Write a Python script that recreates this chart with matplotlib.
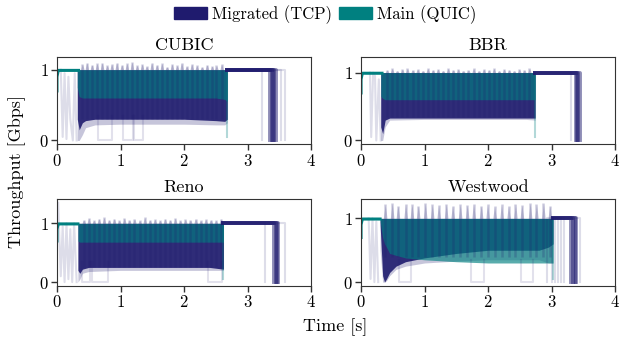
import matplotlib
matplotlib.use("Agg")
import matplotlib.pyplot as plt
from matplotlib.patches import Patch

plt.rcParams["font.family"] = "serif"
plt.rcParams["font.serif"] = ["cmr10", "DejaVu Serif"]
plt.rcParams["mathtext.fontset"] = "cm"
plt.rcParams["axes.formatter.use_mathtext"] = True

TCP = "#1f1b6e"
QUIC = "#008080"

titles = ["CUBIC", "BBR", "Reno", "Westwood"]
y_limits = [(-0.056, 1.18), (-0.058, 1.23), (-0.068, 1.42), (-0.063, 1.31)]
stripe_base = [0.3, 0.35, 0.25, 0.4]

# --- CUBIC ---
cubic_quic_t = [0.0, 0.0, 0.02, 0.34]
cubic_quic_y = [0.7, 0.9, 0.99, 0.99]
cubic_band_t = [0.32, 0.35, 0.40, 0.45, 0.6, 1.0, 1.5, 2.0, 2.5, 2.64, 2.68]
cubic_tcp_min = [0.0, 0.0, 0.08, 0.18, 0.22, 0.23, 0.23, 0.23, 0.22, 0.22, 0.25]
cubic_tcp_lo = [0.3, 0.15, 0.25, 0.28, 0.3, 0.3, 0.3, 0.3, 0.28, 0.27, 0.3]
cubic_quic_lo = [0.75, 0.62, 0.6, 0.6, 0.6, 0.6, 0.6, 0.6, 0.6, 0.58, 0.55]
cubic_peak_t = [0.40, 0.47, 0.55, 0.63, 0.71, 0.79, 0.86, 0.94, 1.02, 1.10,
                1.18, 1.26, 1.34, 1.41, 1.49, 1.57, 1.65, 1.73, 1.81, 1.89,
                1.96, 2.04, 2.12, 2.20, 2.28, 2.36, 2.44, 2.51, 2.59]
cubic_peak_y = [1.08, 1.10, 1.07, 1.09, 1.10, 1.06, 1.08, 1.10, 1.07, 1.09,
                1.11, 1.06, 1.08, 1.05, 1.10, 1.07, 1.09, 1.04, 1.08, 1.06,
                1.10, 1.05, 1.08, 1.06, 1.04, 1.07, 1.05, 1.06, 1.08]
cubic_drops = [3.35, 3.38, 3.40, 3.42, 3.44]
cubic_faint_drops = [3.23, 3.52, 3.58]
cubic_gap_start = [0.65, 1.04, 1.22]
cubic_gap_end = [0.86, 1.20, 1.36]
cubic_ghost_t = [0.06, 0.09, 0.12, 0.15, 0.18, 0.21, 0.25, 0.28, 0.31]
cubic_ghost_y = [1.0, 0.05, 0.95, 0.02, 0.9, 0.3, 0.0, 0.95, 0.0]

# --- BBR ---
bbr_quic_t = [0.0, 0.0, 0.02, 0.33]
bbr_quic_y = [0.7, 0.9, 0.99, 0.99]
bbr_band_t = [0.31, 0.34, 0.38, 0.45, 1.0, 2.0, 2.6, 2.74]
bbr_tcp_min = [0.0, 0.0, 0.2, 0.3, 0.31, 0.31, 0.31, 0.3]
bbr_tcp_lo = [0.2, 0.1, 0.3, 0.33, 0.33, 0.33, 0.33, 0.33]
bbr_quic_lo = [0.65, 0.62, 0.6, 0.6, 0.6, 0.6, 0.6, 0.6]
bbr_peak_t = [0.41, 0.49, 0.57, 0.65, 0.73, 0.81, 0.89, 0.97, 1.05, 1.13,
              1.21, 1.29, 1.37, 1.45, 1.53, 1.61, 1.69, 1.77, 1.85, 1.93,
              2.01, 2.09, 2.17, 2.25, 2.33, 2.41, 2.49, 2.57, 2.65]
bbr_peak_y = [1.04, 1.06, 1.03, 1.05, 1.06, 1.04, 1.05, 1.03, 1.06, 1.04,
              1.05, 1.03, 1.06, 1.04, 1.05, 1.03, 1.04, 1.06, 1.03, 1.05,
              1.04, 1.06, 1.03, 1.05, 1.04, 1.03, 1.05, 1.04, 1.06]
bbr_drops = [3.38, 3.40, 3.42, 3.44]
bbr_faint_drops = [3.31]
bbr_gap_start = []
bbr_gap_end = []
bbr_ghost_t = [0.14, 0.16, 0.19, 0.22, 0.24, 0.28, 0.31]
bbr_ghost_y = [1.0, 0.05, 1.0, 0.95, 0.0, 0.9, 0.0]

# --- Reno ---
reno_quic_t = [0.0, 0.0, 0.02, 0.33]
reno_quic_y = [0.7, 0.9, 0.99, 0.99]
reno_band_t = [0.33, 0.36, 0.40, 0.5, 1.0, 1.5, 2.0, 2.4, 2.62]
reno_tcp_min = [0.0, 0.05, 0.15, 0.18, 0.2, 0.2, 0.2, 0.2, 0.2]
reno_tcp_lo = [0.2, 0.15, 0.22, 0.25, 0.25, 0.25, 0.25, 0.25, 0.22]
reno_quic_lo = [0.7, 0.68, 0.68, 0.68, 0.68, 0.68, 0.68, 0.68, 0.68]
reno_peak_t = [0.42, 0.50, 0.58, 0.66, 0.74, 0.82, 0.90, 0.98, 1.06, 1.14,
               1.22, 1.30, 1.38, 1.46, 1.54, 1.62, 1.70, 1.78, 1.86, 1.94,
               2.02, 2.10, 2.18, 2.26, 2.34, 2.42, 2.50, 2.58]
reno_peak_y = [1.06, 1.09, 1.05, 1.08, 1.1, 1.06, 1.08, 1.05, 1.09, 1.06,
               1.08, 1.05, 1.1, 1.06, 1.07, 1.05, 1.08, 1.06, 1.09, 1.05,
               1.07, 1.06, 1.08, 1.05, 1.07, 1.06, 1.05, 1.08]
reno_drops = [3.42, 3.44, 3.46, 3.48]
reno_faint_drops = [3.27, 3.58]
reno_gap_start = [0.39, 0.55, 2.37]
reno_gap_end = [0.52, 0.80, 2.60]
reno_ghost_t = [0.02, 0.03, 0.06, 0.09, 0.12, 0.15, 0.18, 0.21, 0.24, 0.27, 0.31]
reno_ghost_y = [1.35, 1.0, 0.1, 0.95, 0.0, 1.0, 0.05, 0.9, 0.0, 1.0, 0.0]

# --- Westwood ---
westwood_quic_t = [0.0, 0.0, 0.02, 0.30]
westwood_quic_y = [0.7, 0.9, 0.99, 0.99]
westwood_band_t = [0.30, 0.34, 0.37, 0.40, 0.45, 0.55, 0.7, 1.0, 1.5, 2.0, 2.5, 2.8, 2.95, 3.02]
westwood_tcp_min = [0.5, 0.0, 0.0, 0.02, 0.1, 0.2, 0.25, 0.3, 0.33, 0.35, 0.35, 0.35, 0.3, 0.3]
westwood_tcp_lo = [0.9, 0.1, 0.0, 0.05, 0.15, 0.25, 0.32, 0.38, 0.45, 0.5, 0.5, 0.5, 0.55, 0.6]
westwood_quic_lo = [0.95, 0.7, 0.6, 0.55, 0.45, 0.42, 0.38, 0.35, 0.32, 0.3, 0.3, 0.3, 0.3, 0.3]
westwood_peak_t = [0.38, 0.49, 0.58, 0.70, 0.80, 0.90, 1.01, 1.12, 1.22, 1.34,
                   1.44, 1.56, 1.67, 1.77, 1.89, 1.99, 2.10, 2.21, 2.32, 2.43,
                   2.53, 2.66, 2.76, 2.87, 2.97]
westwood_peak_y = [1.22, 1.24, 1.20, 1.23, 1.22, 1.20, 1.24, 1.22, 1.21, 1.23,
                   1.20, 1.22, 1.21, 1.23, 1.20, 1.22, 1.19, 1.22, 1.20, 1.23,
                   1.21, 1.24, 1.22, 1.24, 1.20]
westwood_drops = [3.30, 3.33, 3.36, 3.38]
westwood_faint_drops = [2.92, 3.0, 3.05, 3.1, 3.15, 3.2, 3.45]
westwood_gap_start = [0.60, 1.73, 2.52]
westwood_gap_end = [0.79, 1.94, 2.71]
westwood_ghost_t = [0.12, 0.15, 0.18, 0.21, 0.24, 0.27]
westwood_ghost_y = [1.0, 0.05, 1.0, 0.0, 0.95, 0.0]

panels = [
    (cubic_quic_t, cubic_quic_y, cubic_band_t, cubic_tcp_min, cubic_tcp_lo, cubic_quic_lo,
     cubic_peak_t, cubic_peak_y, cubic_drops, cubic_faint_drops, cubic_gap_start, cubic_gap_end,
     cubic_ghost_t, cubic_ghost_y),
    (bbr_quic_t, bbr_quic_y, bbr_band_t, bbr_tcp_min, bbr_tcp_lo, bbr_quic_lo,
     bbr_peak_t, bbr_peak_y, bbr_drops, bbr_faint_drops, bbr_gap_start, bbr_gap_end,
     bbr_ghost_t, bbr_ghost_y),
    (reno_quic_t, reno_quic_y, reno_band_t, reno_tcp_min, reno_tcp_lo, reno_quic_lo,
     reno_peak_t, reno_peak_y, reno_drops, reno_faint_drops, reno_gap_start, reno_gap_end,
     reno_ghost_t, reno_ghost_y),
    (westwood_quic_t, westwood_quic_y, westwood_band_t, westwood_tcp_min, westwood_tcp_lo,
     westwood_quic_lo, westwood_peak_t, westwood_peak_y, westwood_drops, westwood_faint_drops,
     westwood_gap_start, westwood_gap_end, westwood_ghost_t, westwood_ghost_y),
]

fig, axes = plt.subplots(2, 2, figsize=(6.19, 3.39), dpi=100)
fig.subplots_adjust(left=0.092, right=0.994, top=0.832, bottom=0.156, wspace=0.196, hspace=0.62)

for ax, title, ylim, base, p in zip(axes.flat, titles, y_limits, stripe_base, panels):
    (quic_t, quic_y, band_t, tcp_min, tcp_lo, quic_lo, peak_t, peak_y,
     drops, faint_drops, gap_start, gap_end, ghost_t, ghost_y) = p
    end = band_t[-1]

    # faint single runs
    ax.plot(ghost_t, ghost_y, color=TCP, alpha=0.15, lw=1.5)
    for a, b in zip(gap_start, gap_end):
        ax.plot([a, a, b, b], [0.35, 0, 0, 0.35], color=TCP, alpha=0.13, lw=1.5)
    for d in faint_drops:
        ax.plot([end, d, d], [1.0, 1.0, 0.0], color=TCP, alpha=0.15, lw=1.5)

    # QUIC alone before migration
    ax.plot(quic_t, quic_y, color=QUIC, lw=2.2)

    # overshoot spikes above line rate
    saw_t = [t for pt in peak_t for t in (pt - 0.03, pt, pt + 0.03)]
    saw_y = [y for py in peak_y for y in (1.0, py, 1.0)]
    ax.fill_between(saw_t, 1.0, saw_y, color=TCP, alpha=0.2, lw=0)

    # dense overlapping oscillation
    ax.fill_between(band_t, tcp_min, 1.0, color=TCP, alpha=0.25, lw=0)
    ax.fill_between(band_t, tcp_lo, 1.0, color=TCP, alpha=0.9, lw=0)
    ax.fill_between(band_t, quic_lo, 1.0, color=QUIC, alpha=0.65, lw=0)
    ax.vlines(peak_t, base, peak_y, color=TCP, alpha=0.22, lw=1.8)
    ax.plot([end, end], [1.0, 0.05], color=QUIC, alpha=0.3, lw=1.5)

    # TCP alone after QUIC finishes
    for d in drops:
        ax.plot([end, d, d], [1.0, 1.0, 0.0], color=TCP, alpha=0.5, lw=2.8)

    ax.set_title(title, fontsize=13, pad=5)
    ax.set_xlim(0, 4)
    ax.set_ylim(*ylim)
    ax.set_xticks([0, 1, 2, 3, 4])
    ax.set_yticks([0, 1])
    ax.tick_params(labelsize=12, length=4, width=1, color="#333333", pad=2)
    for s in ax.spines.values():
        s.set_color("#333333")

fig.text(0.541, 0.035, "Time [s]", ha="center", va="center", fontsize=13)
fig.text(0.027, 0.495, "Throughput [Gbps]", ha="center", va="center", rotation=90, fontsize=13)

handles = [Patch(color=TCP, label="Migrated (TCP)"), Patch(color=QUIC, label="Main (QUIC)")]
fig.legend(handles=handles, loc="center", bbox_to_anchor=(0.525, 0.958), ncol=2,
           frameon=False, fontsize=12, handlelength=2.0, handleheight=0.8,
           columnspacing=0.4, handletextpad=0.3)

fig.savefig("out.png", dpi=100)
